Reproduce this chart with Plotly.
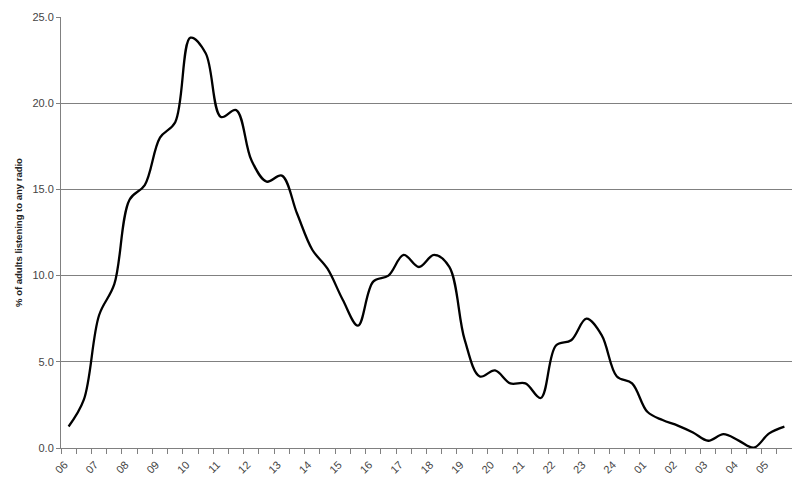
import plotly.graph_objects as go

hours = ["06", "07", "08", "09", "10", "11", "12", "13", "14", "15", "16", "17",
         "18", "19", "20", "21", "22", "23", "24", "01", "02", "03", "04", "05"]
# half-hour slots
slots = [f"{h}:{m}" for h in hours for m in ("00", "30")]
tick_text = [s.split(":")[0] if s.endswith("00") else "" for s in slots]

listening = [1.25, 2.8, 7.7, 9.5, 14.4, 15.25, 18.0, 18.9, 23.8, 22.9,
             19.2, 19.6, 16.7, 15.45, 15.8, 13.6, 11.5, 10.4, 8.6, 7.1,
             9.65, 10.0, 11.2, 10.5, 11.2, 10.5, 6.3, 4.15, 4.5, 3.75,
             3.75, 2.9, 5.95, 6.25, 7.5, 6.55, 4.15, 3.75, 2.1, 1.62,
             1.3, 0.9, 0.42, 0.8, 0.43, 0.02, 0.85, 1.24]

fig = go.Figure(go.Scatter(
    x=slots, y=listening, mode="lines",
    line=dict(color="black", width=2.3, shape="spline", smoothing=1.0),
    hoverinfo="skip"))

# page body adds an 8px margin, so the figure is sized to fit inside it
fig.update_layout(
    width=792, height=477,
    margin=dict(l=53, r=8, t=9, b=37),
    paper_bgcolor="white", plot_bgcolor="white",
    showlegend=False,
    font=dict(family="Arial, Liberation Sans, sans-serif", color="#333333", size=11),
)
fig.update_xaxes(
    type="category", tickvals=slots, ticktext=tick_text,
    tickson="boundaries", ticks="outside", ticklen=5, tickcolor="#808080",
    tickangle=-45, showgrid=False, showline=True, linecolor="#808080",
    linewidth=1, tickfont=dict(size=11, color="#444444"), range=[-0.5, 47.5],
    ticklabelstandoff=5, ticklabelshift=-4,
    automargin=False)
fig.update_yaxes(
    range=[0, 25], dtick=5, tickformat=".1f", ticks="outside", ticklen=4,
    tickcolor="#808080", showgrid=True, gridcolor="#808080", gridwidth=1,
    showline=True, linecolor="#808080", linewidth=1, zeroline=False,
    tickfont=dict(size=11, color="#444444"), automargin=False,
    title=dict(text="<b>% of adults listening to any radio</b>",
               font=dict(size=9.5, color="#222222"), standoff=8))

fig.write_html("out.html")
